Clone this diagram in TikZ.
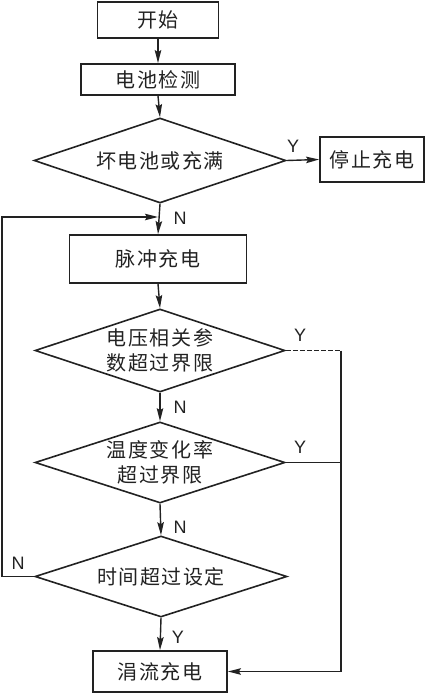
\documentclass[tikz,border=0pt]{standalone}
\usepackage{fontspec}
\setmainfont{Liberation Sans}
\newfontfamily\cjk[LetterSpace=8]{Noto Sans CJK SC}
\usetikzlibrary{shapes.geometric,arrows.meta}
\definecolor{ink}{HTML}{222222}
\begin{document}
\begin{tikzpicture}[x=1pt,y=1pt,
  line width=1.4pt, draw=ink, text=ink,
  box/.style={draw=ink, rectangle, inner sep=0pt, line width=1.8pt,
              font=\cjk\fontsize{20}{25}\selectfont},
  dia/.style={draw=ink, diamond, inner sep=0pt, line width=1.6pt, align=center,
              font=\cjk\fontsize{20}{25}\selectfont},
  arr/.style={-{Stealth[length=13pt,width=6.5pt,inset=2pt]}},
  lab/.style={font=\fontsize{18}{18}\selectfont, text=ink, inner sep=0pt}]
\useasboundingbox (0,0) rectangle (425,-693);

\node[box, minimum width=121pt, minimum height=36pt] (start) at (158,-20) {开始};
\node[box, minimum width=154pt, minimum height=31pt] (detect) at (158,-79.5) {电池检测};
\node[dia, shape aspect=2.96, minimum width=252pt, minimum height=85pt] (d1) at (160,-160.5) {坏电池或充满};
\node[box, minimum width=104pt, minimum height=45pt] (stop) at (372,-159.5) {停止充电};
\node[box, minimum width=177pt, minimum height=48pt] (pulse) at (158,-259) {脉冲充电};
\node[dia, shape aspect=3.01, minimum width=250pt, minimum height=83pt] (d2) at (160,-350.5) {电压相关参\\数超过界限};
\node[dia, shape aspect=3.09, minimum width=250pt, minimum height=81pt] (d3) at (160,-462.5) {温度变化率\\超过界限};
\node[dia, shape aspect=3.11, minimum width=252pt, minimum height=81pt] (d4) at (161,-576.5) {时间超过设定};
\node[box, minimum width=134pt, minimum height=41pt] (trickle) at (160,-671.5) {涓流充电};

\coordinate (join) at (158,-217);
\coordinate (rjoin) at (341,-671.5);
\coordinate (lcorner) at (2,-576.5);

\draw[arr] (start.south) -- (detect.north);
\draw[arr] (detect.south) -- (d1.north);
\draw[arr] (d1.east) -- (stop.west);
\draw[arr] (d1.south) -- (pulse.north);
\draw[arr] (pulse.south) -- (d2.north);
\draw[arr] (d2.south) -- (d3.north);
\draw[arr] (d3.south) -- (d4.north);
\draw[arr] (d4.south) -- (trickle.north);
\draw[arr] (d4.west) -- (lcorner) |- (join);
\draw[dashed, dash pattern=on 5pt off 2pt] (d2.east) -- (d2.east -| rjoin);
\draw (d2.east -| rjoin) -- (rjoin);
\draw (d3.east) -- (d3.east -| rjoin);
\draw[arr] (rjoin) -- (trickle.east);

\node[lab] (y1) at (293,-146) {Y};
\node[lab] (n1) at (180,-218) {N};
\node[lab] (y2) at (300,-335) {Y};
\node[lab] (n2) at (180,-407) {N};
\node[lab] (y3) at (300,-447) {Y};
\node[lab] (n3) at (180,-527) {N};
\node[lab] (n4) at (18,-563) {N};
\node[lab] (y4) at (178,-637) {Y};
\end{tikzpicture}
\end{document}
